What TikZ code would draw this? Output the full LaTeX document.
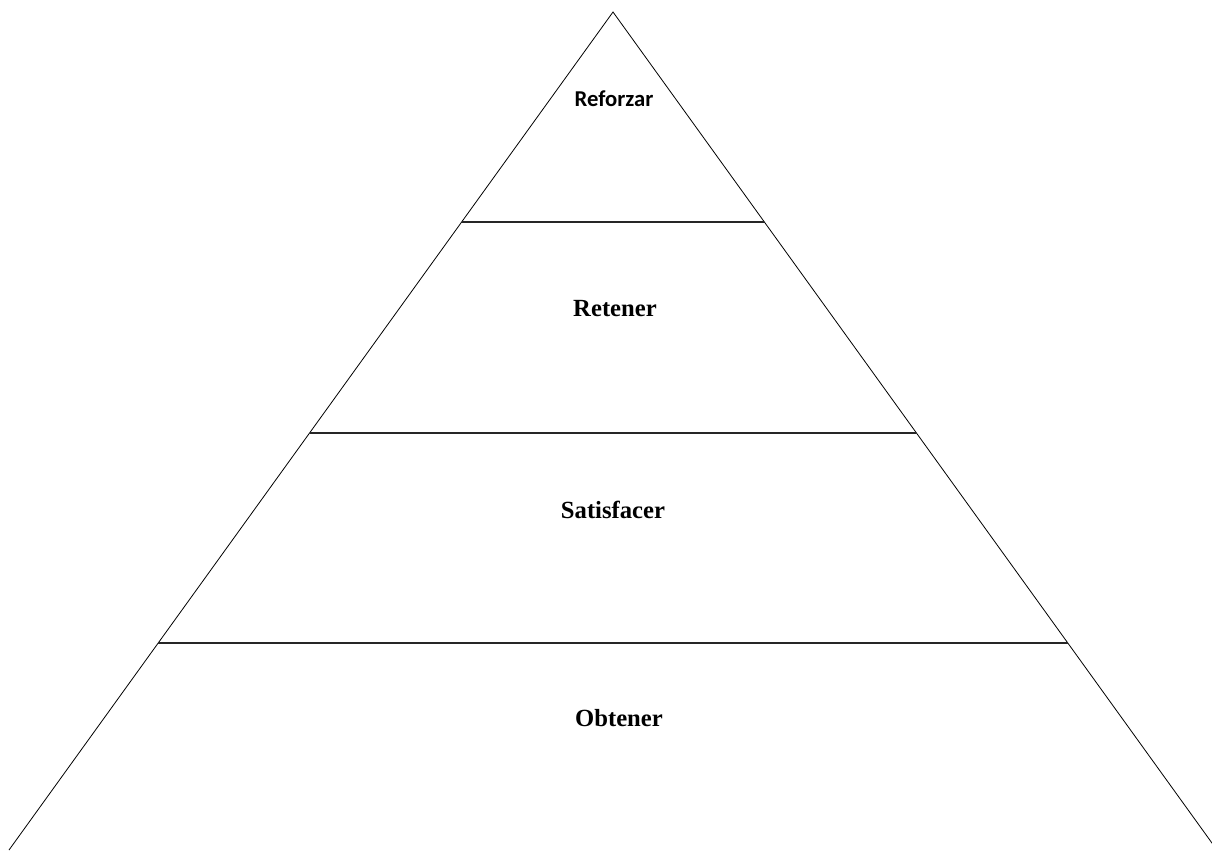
\documentclass[tikz,border=0pt]{standalone}
\usepackage{fontspec}
\setmainfont{Liberation Serif}
\newfontfamily\labelsans{Carlito}
\usetikzlibrary{calc}
\tikzset{
  edge/.style={line width=0.6pt, black},
  tier/.style={line width=0.9pt, black!85},
  lvl/.style={anchor=base, inner sep=0pt, font=\fontsize{18.5}{22}\selectfont\bfseries},
  toplvl/.style={anchor=base, inner sep=0pt, font=\labelsans\fontsize{17}{20}\selectfont\bfseries},
}
\begin{document}
\begin{tikzpicture}[x=0.75pt,y=-0.75pt]
\useasboundingbox (0,0) rectangle (1212,850);
\clip (0,0) rectangle (1212,850);
\coordinate (A) at (613,12);
\coordinate (L) at (9,850);
\coordinate (R) at (1217,850);
\draw[edge] (L) -- (A) -- (R);
\foreach \t/\n in {0.2506/1,0.5024/2,0.753/3}{
  \coordinate (l\n) at ($(A)!\t!(L)$);
  \coordinate (r\n) at ($(A)!\t!(R)$);
  \draw[tier] (l\n) -- (r\n);
}
\node[toplvl] (ref) at (614,106) {Reforzar};
\node[lvl] (ret) at (615,316) {Retener};
\node[lvl] (sat) at (613,518) {Satisfacer};
\node[lvl] (obt) at (619,726) {Obtener};
\end{tikzpicture}
\end{document}
